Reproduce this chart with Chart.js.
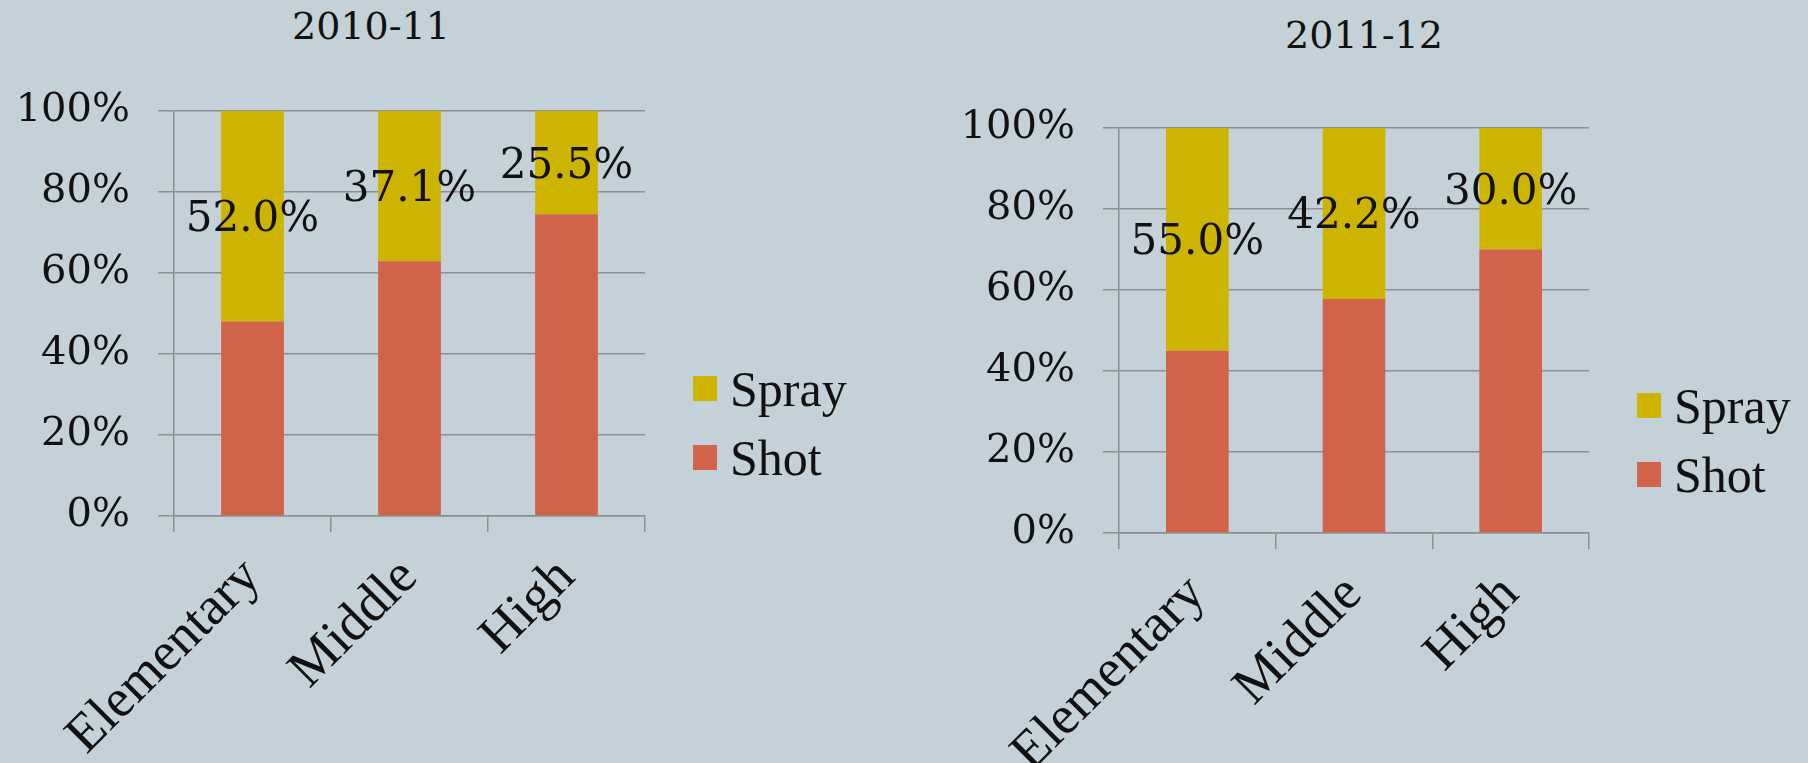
<!DOCTYPE html>
<html>
<head>
<meta charset="utf-8">
<script src="https://cdn.jsdelivr.net/npm/chart.js@4.4.1/dist/chart.umd.min.js"></script>
<style>
  html, body { margin: 0; padding: 0; }
  body { width: 1808px; height: 763px; background: #c5d1d8; position: relative; overflow: hidden; }
  canvas { position: absolute; top: 0; }
  #chartA { left: 0; }
  #chartB { left: 900px; }
  .chart-title { position: absolute; font-family: 'DejaVu Serif'; font-size: 38px; color: #111; transform: translate(-50%, -50%); white-space: nowrap; line-height: 1; }
  .legend { position: absolute; font-family: 'Liberation Serif'; font-size: 50px; color: #111; line-height: 1; }
  .legend-row { display: flex; align-items: center; height: 69px; }
  .legend-swatch { width: 24px; height: 25px; margin-right: 13px; }
</style>
</head>
<body>
<div class="chart-title" style="left:371px; top:26px">2010-11</div>
<div class="chart-title" style="left:1364px; top:35px">2011-12</div>
<canvas id="chartA" width="900" height="763"></canvas>
<canvas id="chartB" width="908" height="763"></canvas>
<div class="legend" id="legendA" style="left:693px; top:354px"></div>
<div class="legend" id="legendB" style="left:1637px; top:371px"></div>

<script>
// data
const categories = ['Elementary', 'Middle', 'High'];
const seriesNames = ['Shot', 'Spray'];
const seriesColors = ['#d2634b', '#cdb400'];
const shot2010 = [48.0, 62.9, 74.5];
const spray2010 = [52.0, 37.1, 25.5];
const shot2011 = [45.0, 57.8, 70.0];
const spray2011 = [55.0, 42.2, 30.0];
const yTicks = [0, 20, 40, 60, 80, 100];

const gridColor = '#8d8f91';
const textColor = '#111';

// spray share printed in the middle of the top segment
const sprayLabels = {
  id: 'sprayLabels',
  afterDatasetsDraw(chart) {
    const { ctx } = chart;
    const meta = chart.getDatasetMeta(1);
    const data = chart.data.datasets[1].data;
    ctx.save();
    ctx.font = '42px "DejaVu Serif"';
    ctx.fillStyle = textColor;
    ctx.textAlign = 'center';
    ctx.textBaseline = 'middle';
    meta.data.forEach((bar, i) => {
      const mid = (bar.y + bar.base) / 2;
      ctx.fillText(data[i].toFixed(1) + '%', bar.x, mid + 4);
    });
    ctx.restore();
  }
};

function makeChart(id, shot, spray, box) {
  return new Chart(document.getElementById(id), {
    type: 'bar',
    data: {
      labels: categories,
      datasets: [
        { label: seriesNames[0], data: shot, backgroundColor: seriesColors[0], barPercentage: 0.4, categoryPercentage: 1 },
        { label: seriesNames[1], data: spray, backgroundColor: seriesColors[1], barPercentage: 0.4, categoryPercentage: 1 }
      ]
    },
    options: {
      responsive: false,
      animation: false,
      layout: { padding: { left: 0, top: box.top, right: box.right, bottom: 0 } },
      plugins: { legend: { display: false }, tooltip: { enabled: false } },
      scales: {
        x: {
          stacked: true,
          grid: { display: true, drawOnChartArea: false, tickLength: 16, color: gridColor, lineWidth: 1.5 },
          border: { color: gridColor, width: 1.5 },
          ticks: {
            color: textColor, font: { family: 'Liberation Serif', size: 54 },
            minRotation: 45, maxRotation: 45, autoSkip: false, padding: 14
          },
          afterFit: s => { s.height = box.xHeight; }
        },
        y: {
          stacked: true, min: 0, max: 100,
          grid: { color: gridColor, lineWidth: 1.5, tickLength: 16 },
          border: { color: gridColor, width: 1.5 },
          ticks: { color: textColor, font: { family: 'DejaVu Serif', size: 40 }, padding: 28, callback: v => v + '%' },
          afterBuildTicks: s => { s.ticks = yTicks.map(v => ({ value: v })); },
          afterFit: s => { s.width = box.yWidth; }
        }
      }
    },
    plugins: [sprayLabels]
  });
}

function renderLegend(id) {
  // stacked order: top series first
  const el = document.getElementById(id);
  el.innerHTML = seriesNames.map((n, i) => ({ n, c: seriesColors[i] })).reverse().map(s =>
    `<div class="legend-row"><div class="legend-swatch" style="background:${s.c}"></div><span>${s.n}</span></div>`
  ).join('');
}

makeChart('chartA', shot2010, spray2010, { top: 111, right: 255, xHeight: 247, yWidth: 174 });
makeChart('chartB', shot2011, spray2011, { top: 128, right: 219, xHeight: 230, yWidth: 219 });
renderLegend('legendA');
renderLegend('legendB');
</script>
</body>
</html>
